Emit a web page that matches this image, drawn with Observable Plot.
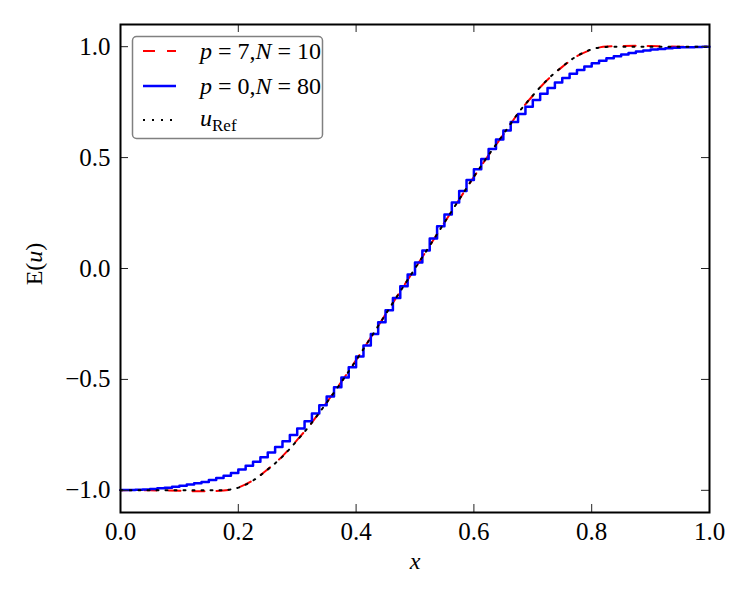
<!DOCTYPE html>
<html>
<head>
<meta charset="utf-8">
<script src="https://cdn.jsdelivr.net/npm/d3@7"></script>
<script src="https://cdn.jsdelivr.net/npm/@observablehq/plot@0.6"></script>
<style>
  body { margin: 0; background: #fff; }
  #wrap { position: relative; width: 750px; height: 600px; }
  #overlay { position: absolute; left: 0; top: 0; pointer-events: none; }
</style>
</head>
<body>
<div id="wrap"></div>
<script>
// Tick positions
const xTicks = [0, 0.2, 0.4, 0.6, 0.8, 1.0];
const yTicks = [-1, -0.5, 0, 0.5, 1];

// Sample abscissae for the smooth curves
const sampleX = [0, 0.025, 0.05, 0.075, 0.1, 0.125, 0.15, 0.175, 0.2, 0.225,
  0.25, 0.275, 0.3, 0.325, 0.35, 0.375, 0.4, 0.425, 0.45, 0.475,
  0.5, 0.525, 0.55, 0.575, 0.6, 0.625, 0.65, 0.675, 0.7, 0.725,
  0.75, 0.775, 0.8, 0.825, 0.85, 0.875, 0.9, 0.925, 0.95, 0.975, 1.0];

// Reference solution u_Ref
const uRef = [-1, -1, -1, -1, -1, -1, -1, -0.999, -0.988, -0.956,
  -0.906, -0.848, -0.775, -0.695, -0.605, -0.512, -0.414, -0.311, -0.207, -0.103,
  0, 0.103, 0.207, 0.311, 0.414, 0.512, 0.605, 0.700, 0.780, 0.852,
  0.910, 0.958, 0.988, 0.999, 1, 1, 1, 1, 1, 1, 1];

// High-order solution p = 7, N = 10
const uP7 = [-1, -0.999, -1, -1.001, -1.002, -1.004, -1.004, -1.001, -0.987, -0.955,
  -0.905, -0.846, -0.773, -0.694, -0.604, -0.511, -0.413, -0.311, -0.207, -0.103,
  0, 0.103, 0.207, 0.311, 0.413, 0.511, 0.604, 0.699, 0.779, 0.851,
  0.909, 0.957, 0.987, 1.001, 1.003, 1.004, 1.003, 1.001, 1, 0.999, 1];

// Cell averages for p = 0, N = 80
const nCells = 80;
const uP0 = [
  -0.999, -0.998, -0.997, -0.996, -0.994, -0.991, -0.988, -0.984, -0.979, -0.974,
  -0.968, -0.962, -0.954, -0.945, -0.934, -0.922, -0.906, -0.889, -0.871, -0.851,
  -0.829, -0.805, -0.779, -0.751, -0.721, -0.689, -0.654, -0.617, -0.577, -0.535,
  -0.491, -0.445, -0.397, -0.347, -0.295, -0.242, -0.188, -0.133, -0.080, -0.027,
  0.027, 0.081, 0.135, 0.190, 0.244, 0.297, 0.349, 0.399, 0.447, 0.494,
  0.539, 0.581, 0.622, 0.660, 0.696, 0.729, 0.760, 0.788, 0.814, 0.838,
  0.859, 0.878, 0.895, 0.911, 0.925, 0.937, 0.948, 0.957, 0.965, 0.972,
  0.978, 0.983, 0.987, 0.990, 0.993, 0.995, 0.997, 0.998, 0.999, 0.9995
];

const refData = sampleX.map((x, i) => ({x, u: uRef[i]}));
const p7Data = sampleX.map((x, i) => ({x, u: uP7[i]}));
// piecewise constant: each cell contributes its left and right edge
const p0Data = uP0.flatMap((u, i) => [{x: i / nCells, u}, {x: (i + 1) / nCells, u}]);

const serif = "'Liberation Serif', 'DejaVu Serif', serif";
const plotH = 600 - 24 - 88;
const plotW = 750 - 120 - 41;
const tickLen = 8;

const chart = Plot.plot({
  width: 750,
  height: 600,
  marginTop: 24,
  marginBottom: 88,
  marginLeft: 120,
  marginRight: 41,
  style: {fontFamily: serif, fontSize: "25px", background: "#fff", color: "#000"},
  x: {domain: [0, 1]},
  y: {domain: [-1.1, 1.1]},
  marks: [
    Plot.line(p7Data, {x: "x", y: "u", curve: "monotone-x", stroke: "#ff0000", strokeWidth: 2, strokeDasharray: "12,12"}),
    Plot.line(p0Data, {x: "x", y: "u", stroke: "#0000ff", strokeWidth: 2.5}),
    Plot.line(refData, {x: "x", y: "u", curve: "monotone-x", stroke: "#000", strokeWidth: 2, strokeDasharray: "2,7"}),
    // inward ticks on all four sides
    Plot.tickX(xTicks, {x: d => d, insetTop: plotH - tickLen, stroke: "#222", strokeWidth: 1}),
    Plot.tickX(xTicks, {x: d => d, insetBottom: plotH - tickLen, stroke: "#222", strokeWidth: 1}),
    Plot.tickY(yTicks, {y: d => d, insetRight: plotW - tickLen, stroke: "#222", strokeWidth: 1}),
    Plot.tickY(yTicks, {y: d => d, insetLeft: plotW - tickLen, stroke: "#222", strokeWidth: 1}),
    Plot.frame({stroke: "#000", strokeWidth: 2}),
    Plot.axisX({ticks: xTicks, tickSize: 0, tickPadding: 10, tickFormat: d3.format(".1f"), label: null, fontSize: 25}),
    Plot.axisY({ticks: yTicks, tickSize: 0, tickPadding: 10, tickFormat: d3.format(".1f"), label: null, fontSize: 25}),
    Plot.text(["x"], {frameAnchor: "bottom", dy: 56, fontStyle: "italic", fontSize: 24})
  ]
});

const wrap = document.getElementById("wrap");
wrap.appendChild(chart);

// y-axis label and legend, drawn as an SVG layer over the chart
const ov = d3.select(wrap).append("svg")
  .attr("id", "overlay")
  .attr("width", 750).attr("height", 600)
  .style("font-family", serif);

const yl = ov.append("text")
  .attr("transform", "translate(42,264) rotate(-90)")
  .attr("text-anchor", "middle")
  .style("font-size", "24px");
yl.append("tspan").text("E(");
yl.append("tspan").style("font-style", "italic").text("u");
yl.append("tspan").text(")");

const lg = ov.append("g").attr("transform", "translate(132,36)");
lg.append("rect")
  .attr("x", 0.5).attr("y", 0.5).attr("width", 190).attr("height", 102)
  .attr("rx", 4).attr("fill", "#fff").attr("stroke", "#808080").attr("stroke-width", 1.5);

const legendItems = [
  {stroke: "#ff0000", dash: "12,12", y: 15, w: 2},
  {stroke: "#0000ff", dash: null, y: 50, w: 2.5},
  {stroke: "#000", dash: "2,7", y: 84, w: 2}
];
legendItems.forEach(d => {
  const l = lg.append("line")
    .attr("x1", 11).attr("x2", 44).attr("y1", d.y).attr("y2", d.y)
    .attr("stroke", d.stroke).attr("stroke-width", d.w);
  if (d.dash) l.attr("stroke-dasharray", d.dash);
});

function mathRow(y, parts) {
  const t = lg.append("text").attr("x", 68).attr("y", y).attr("dy", "0.35em").style("font-size", "24px");
  parts.forEach(([s, it, sub]) => {
    const ts = t.append("tspan").text(s);
    if (it) ts.style("font-style", "italic");
    if (sub) ts.attr("baseline-shift", "-30%").style("font-size", "17px");
  });
}
mathRow(15, [["p", true], [" = 7,", false], ["N", true], [" = 10", false]]);
mathRow(50, [["p", true], [" = 0,", false], ["N", true], [" = 80", false]]);
mathRow(82, [["u", true], ["Ref", false, true]]);
</script>
</body>
</html>
